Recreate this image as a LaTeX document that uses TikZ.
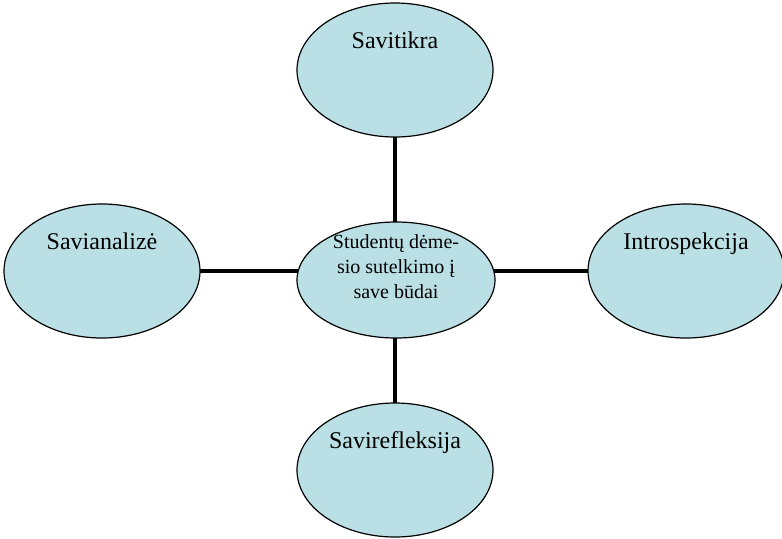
\documentclass[tikz,border=0pt]{standalone}
\usepackage{fontspec}
\setmainfont{Liberation Serif}
\usetikzlibrary{backgrounds,shapes.geometric}
\definecolor{bubblefill}{RGB}{186,224,229}
\begin{document}
\begin{tikzpicture}[x=0.5pt,y=-0.5pt,
	bubble/.style={ellipse, draw=black, line width=0.6pt, fill=bubblefill, minimum width=98pt, minimum height=67pt, inner sep=0pt},
	tag/.style={anchor=base, font=\fontsize{12}{14}\selectfont},
	spoke/.style={line width=2.3pt, draw=black}]
	\useasboundingbox (0,0) rectangle (782,538);
	\node (C) at (396, 280)	[bubble, minimum width=99pt, minimum height=58pt]	{};
	\node (T) at (395,  70)	[bubble]	{};
	\node (B) at (395, 470)	[bubble]	{};
	\node (L) at (102, 271)	[bubble]	{};
	\node (R) at (686, 271)	[bubble]	{};
	\node (Ct) at ([yshift=6.5pt]C.center)	[align=center, font=\fontsize{10}{12.5}\selectfont]	{Studentų dėme-\\sio sutelkimo į\\save būdai};
	\node (Tt) at ([yshift=11pt]T.center)	[tag]	{Savitikra};
	\node (Bt) at ([yshift=11pt]B.center)	[tag]	{Savirefleksija};
	\node (Lt) at ([yshift=11pt]L.center)	[tag]	{Savianalizė};
	\node (Rt) at ([yshift=11pt]R.center)	[tag]	{Introspekcija};
	\begin{scope}[on background layer]
		\draw[spoke] (T.center) -- (B.center);
		\draw[spoke] (L.center) -- (R.center);
	\end{scope}
\end{tikzpicture}
\end{document}
